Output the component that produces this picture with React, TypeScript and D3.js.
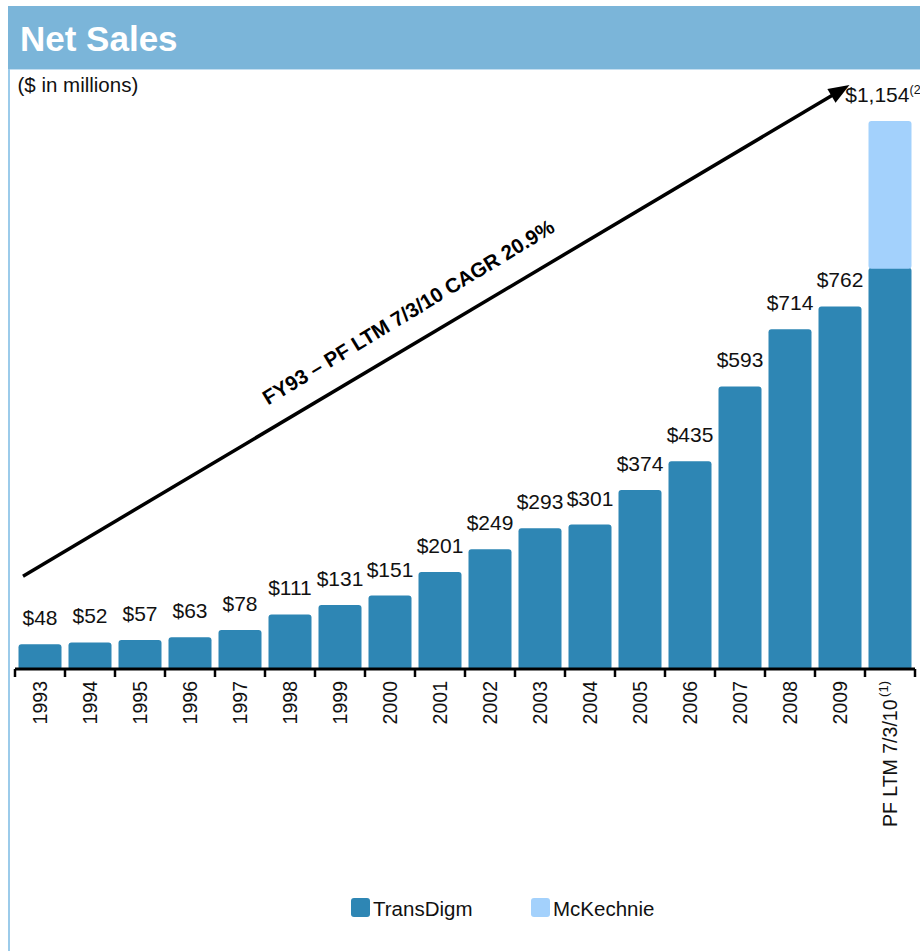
import React from "react";
import * as d3 from "d3";

const categories = [
  "1993", "1994", "1995", "1996", "1997", "1998", "1999", "2000", "2001",
  "2002", "2003", "2004", "2005", "2006", "2007", "2008", "2009", "PF LTM 7/3/10",
];
const transDigm = [48, 52, 57, 63, 78, 111, 131, 151, 201, 249, 293, 301, 374, 435, 593, 714, 762, 844];
const mcKechnie = [0, 0, 0, 0, 0, 0, 0, 0, 0, 0, 0, 0, 0, 0, 0, 0, 0, 310];
const valueNotes = ["", "", "", "", "", "", "", "", "", "", "", "", "", "", "", "", "", "(2)"];
const categoryNotes = ["", "", "", "", "", "", "", "", "", "", "", "", "", "", "", "", "", "(1)"];
const seriesNames = ["TransDigm", "McKechnie"];
const colors = ["#2e86b4", "#a3d1fc"];
const cagrLabel = "FY93 \u2013 PF LTM 7/3/10 CAGR 20.9%";

const W = 920;
const H = 951;
const FONT = "'Liberation Sans', Arial, Helvetica, sans-serif";

export default function App() {
  const totals = transDigm.map((v, i) => v + mcKechnie[i]);

  const x = d3
    .scaleBand<string>()
    .domain(categories)
    .range([15, 915])
    .paddingInner(0.14)
    .paddingOuter(0.07);

  const baseY = 667;
  const y = d3
    .scaleLinear()
    .domain([0, d3.max(totals) as number])
    .range([baseY, 121]);

  const step = x.step();
  const bw = x.bandwidth();
  const tickXs = categories.map((c) => (x(c) as number) - (step - bw) / 2);
  tickXs.push(x.range()[1]);

  // CAGR arrow
  const last = categories[categories.length - 1];
  const start: [number, number] = [x.range()[0] + 8, y(192)];
  const tip: [number, number] = [(x(last) as number) - 19, y(1230)];
  const dx = tip[0] - start[0];
  const dy = tip[1] - start[1];
  const len = Math.sqrt(dx * dx + dy * dy);
  const dir = [dx / len, dy / len];
  const nrm = [dir[1], -dir[0]];
  const headLen = 21;
  const headHalf = 8;
  const lineEnd = [tip[0] - dir[0] * (headLen - 4), tip[1] - dir[1] * (headLen - 4)];
  const hb = [tip[0] - dir[0] * headLen, tip[1] - dir[1] * headLen];
  const head = [
    tip,
    [hb[0] + nrm[0] * headHalf, hb[1] + nrm[1] * headHalf],
    [hb[0] - nrm[0] * headHalf, hb[1] - nrm[1] * headHalf],
  ];
  const angle = (Math.atan2(dy, dx) * 180) / Math.PI - 0.5;
  const along = len * 0.485;
  const labelPos = [
    start[0] + dir[0] * along + nrm[0] * 23,
    start[1] + dir[1] * along + nrm[1] * 23,
  ];

  return (
    <svg
      width={W}
      height={H}
      style={{ position: "absolute", left: 0, top: 0, display: "block", background: "#fff" }}
      fontFamily={FONT}
    >
      {/* header */}
      <rect x={8} y={6} width={W - 8} height={63} fill="#7bb5d9" />
      <line x1={8} x2={W} y1={69.5} y2={69.5} stroke="#c4def0" strokeWidth={1} />
      <line x1={9} x2={9} y1={69} y2={H} stroke="#9ccbea" strokeWidth={2} />
      <text x={20} y={51} fill="#fff" fontSize={35} fontWeight="bold">
        Net Sales
      </text>
      <text x={17.5} y={92} fill="#111" fontSize={20.5}>
        ($ in millions)
      </text>

      {/* bars */}
      {categories.map((c, i) => {
        const x0 = x(c) as number;
        const t = transDigm[i];
        const m = mcKechnie[i];
        return (
          <g key={c}>
            <rect x={x0} y={y(t)} width={bw} height={baseY + 3 - y(t)} rx={3} fill={colors[0]} />
            {m > 0 && (
              <rect x={x0} y={y(t + m)} width={bw} height={y(t) - y(t + m) + 1} rx={3} fill={colors[1]} />
            )}
          </g>
        );
      })}

      {/* value labels */}
      {categories.map((c, i) => (
        <text
          key={"v" + c}
          x={(x(c) as number) + bw / 2}
          y={y(totals[i]) - 19}
          textAnchor="middle"
          dx={valueNotes[i] ? -5 : 0}
          fontSize={21}
          fill="#111"
        >
          {"$" + d3.format(",")(totals[i])}
          {valueNotes[i] && (
            <tspan fontSize={12.5} dy={-8}>
              {valueNotes[i]}
            </tspan>
          )}
        </text>
      ))}

      {/* axis */}
      <line x1={x.range()[0]} x2={x.range()[1]} y1={baseY + 2} y2={baseY + 2} stroke="#000" strokeWidth={3} />
      {tickXs.map((tx, i) => (
        <line key={"t" + i} x1={tx} x2={tx} y1={baseY + 2} y2={baseY + 10} stroke="#000" strokeWidth={2.5} />
      ))}
      {categories.map((c, i) => {
        const cx = (x(c) as number) + bw / 2;
        return (
          <text
            key={"c" + c}
            transform={`translate(${cx},${baseY + 14}) rotate(-90)`}
            textAnchor="end"
            dy="0.36em"
            fontSize={19.5}
            fill="#111"
          >
            {c}
            {categoryNotes[i] && (
              <tspan fontSize={13} dy={-9}>
                {"\u2009" + categoryNotes[i]}
              </tspan>
            )}
          </text>
        );
      })}

      {/* CAGR arrow */}
      <line x1={start[0]} y1={start[1]} x2={lineEnd[0]} y2={lineEnd[1]} stroke="#000" strokeWidth={3.5} />
      <polygon points={head.map((p) => p.join(",")).join(" ")} fill="#000" />
      <text
        transform={`translate(${labelPos[0]},${labelPos[1]}) rotate(${angle})`}
        textAnchor="middle"
        fontSize={20.5}
        fontWeight="bold"
        fill="#000"
      >
        {cagrLabel}
      </text>

      {/* legend */}
      {seriesNames.map((s, i) => {
        const lx = i === 0 ? 351 : 531;
        return (
          <g key={s}>
            <rect x={lx} y={898} width={19} height={19} rx={3} fill={colors[i]} />
            <text x={lx + 22} y={916} fontSize={20.5} fill="#111">
              {s}
            </text>
          </g>
        );
      })}
    </svg>
  );
}
